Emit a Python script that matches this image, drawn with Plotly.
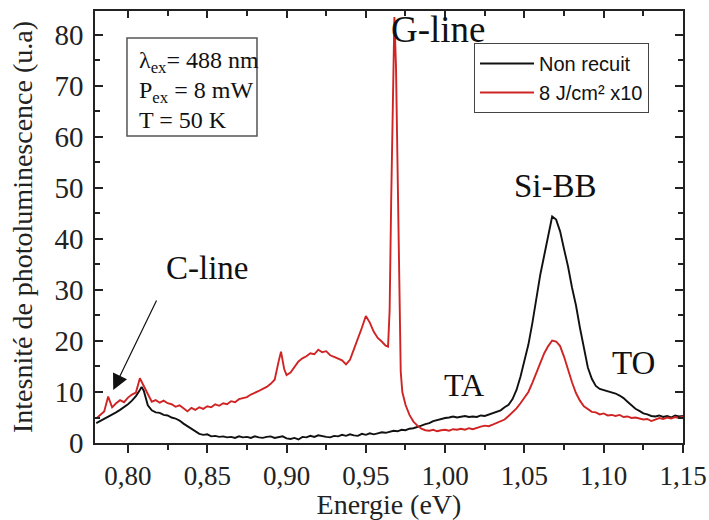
import plotly.graph_objects as go

# ---------------- data ----------------
energy_black = [
    0.780, 0.7825, 0.785, 0.7875, 0.790, 0.7925, 0.795, 0.7975, 0.800, 0.8025,
    0.805, 0.8075, 0.8086, 0.810, 0.8125, 0.815, 0.8175, 0.820, 0.8225, 0.825,
    0.8275, 0.830, 0.8325, 0.835, 0.8375, 0.840, 0.8425, 0.845, 0.8475, 0.850,
    0.8525, 0.855, 0.8575, 0.860, 0.8625, 0.865, 0.8675, 0.870, 0.8725, 0.875,
    0.8775, 0.880, 0.8825, 0.885, 0.8875, 0.890, 0.8925, 0.895, 0.8975, 0.900,
    0.9025, 0.905, 0.9075, 0.910, 0.9125, 0.915, 0.9175, 0.920, 0.9225, 0.925,
    0.9275, 0.930, 0.9325, 0.935, 0.9375, 0.940, 0.9425, 0.945, 0.9475, 0.950,
    0.9525, 0.955, 0.9575, 0.960, 0.9625, 0.965, 0.9675, 0.970, 0.9725, 0.975,
    0.9775, 0.980, 0.9825, 0.985, 0.9875, 0.990, 0.9925, 0.995, 0.9975, 1.000,
    1.0025, 1.005, 1.0075, 1.010, 1.0125, 1.015, 1.0175, 1.020, 1.0225, 1.025,
    1.0275, 1.030, 1.0325, 1.035, 1.0375, 1.040, 1.0425, 1.045, 1.0475, 1.050,
    1.0525, 1.055, 1.0575, 1.060, 1.0625, 1.065, 1.0675, 1.070, 1.0725, 1.075,
    1.0775, 1.080, 1.0825, 1.085, 1.0875, 1.090, 1.0925, 1.095, 1.0975, 1.100,
    1.1025, 1.105, 1.1075, 1.110, 1.1125, 1.115, 1.1175, 1.120, 1.1225, 1.125,
    1.1275, 1.130, 1.1325, 1.135, 1.1375, 1.140, 1.1425, 1.145, 1.1475, 1.150,
]
intensity_black = [
    3.9, 4.3, 4.8, 5.1, 5.6, 6.0, 6.5, 7.0, 7.6, 8.3,
    9.2, 10.4, 11.0, 10.2, 7.4, 6.4, 6.0, 5.9, 5.5, 5.4,
    5.0, 4.8, 4.4, 3.8, 3.3, 2.8, 2.3, 1.8, 1.6, 1.7,
    1.3, 1.4, 1.2, 1.3, 1.1, 1.2, 1.0, 1.3, 1.1, 1.2,
    1.0, 1.3, 1.1, 1.0, 1.2, 1.3, 1.0, 1.1, 1.3, 0.9,
    0.8, 1.0, 0.7, 1.2, 1.1, 1.4, 1.2, 1.5, 1.3, 1.2,
    1.1, 1.4, 1.3, 1.6, 1.4, 1.7, 1.5, 1.4, 1.8, 1.6,
    1.9, 1.7, 1.9, 2.1, 2.0, 2.2, 2.4, 2.3, 2.6, 2.5,
    2.8, 2.9, 3.1, 3.4, 3.7, 3.9, 4.3, 4.5, 4.8, 4.9,
    5.0, 5.2, 5.0, 5.1, 5.3, 5.1, 5.2, 5.1, 5.4, 5.3,
    5.6, 5.8, 6.1, 6.4, 7.0, 7.5, 8.6, 10.4, 13.0, 16.0,
    19.3, 23.5, 28.6, 33.0, 36.8, 41.0, 44.4, 43.8, 41.5, 38.0,
    34.6, 30.5, 27.0, 22.6, 18.4, 14.8, 12.6, 11.2, 10.6, 10.4,
    10.2, 10.0, 9.7, 9.3, 8.8, 8.1, 7.4, 6.7, 6.3, 5.8,
    5.6, 5.3, 5.2, 5.4, 5.1, 5.3, 5.0, 5.4, 5.2, 5.3,
]

energy_red = [
    0.780, 0.7825, 0.785, 0.7875, 0.790, 0.7925, 0.795, 0.7975, 0.800, 0.8025,
    0.805, 0.8075, 0.810, 0.8125, 0.815, 0.8175, 0.820, 0.8225, 0.825, 0.8275,
    0.830, 0.8325, 0.835, 0.8375, 0.840, 0.8425, 0.845, 0.8475, 0.850, 0.8525,
    0.855, 0.8575, 0.860, 0.8625, 0.865, 0.8675, 0.870, 0.8725, 0.875, 0.8775,
    0.880, 0.8825, 0.885, 0.8875, 0.890, 0.8925, 0.895, 0.8965, 0.8985, 0.900,
    0.9025, 0.905, 0.9075, 0.910, 0.9125, 0.915, 0.9175, 0.920, 0.9225, 0.925,
    0.9275, 0.930, 0.9325, 0.935, 0.9375, 0.940, 0.9425, 0.945, 0.9475, 0.950,
    0.9525, 0.955, 0.9575, 0.960, 0.9625, 0.964, 0.965, 0.966, 0.967, 0.968,
    0.969, 0.970, 0.971, 0.972, 0.973, 0.975, 0.9775, 0.980, 0.9825, 0.985,
    0.9875, 0.990, 0.9925, 0.995, 0.9975, 1.000, 1.0025, 1.005, 1.0075, 1.010,
    1.0125, 1.015, 1.0175, 1.020, 1.0225, 1.025, 1.0275, 1.030, 1.0325, 1.035,
    1.0375, 1.040, 1.0425, 1.045, 1.0475, 1.050, 1.0525, 1.055, 1.0575, 1.060,
    1.0625, 1.065, 1.0675, 1.070, 1.0725, 1.075, 1.0775, 1.080, 1.0825, 1.085,
    1.0875, 1.090, 1.0925, 1.095, 1.0975, 1.100, 1.1025, 1.105, 1.1075, 1.110,
    1.1125, 1.115, 1.1175, 1.120, 1.1225, 1.125, 1.1275, 1.130, 1.1325, 1.135,
    1.1375, 1.140, 1.1425, 1.145, 1.1475, 1.150,
]
intensity_red = [
    4.8, 5.6, 6.2, 9.1, 7.0, 7.8, 8.4, 8.0, 8.9, 9.5,
    9.9, 12.7, 11.3, 9.6, 8.1, 8.4, 7.9, 8.3, 7.8, 7.6,
    7.1, 7.4, 6.8, 6.2, 6.9, 6.5, 7.0, 6.7, 7.2, 7.0,
    7.6, 7.3, 7.8, 7.6, 8.2, 8.0, 8.6, 8.8, 9.0, 9.5,
    9.8, 10.2, 10.6, 11.0, 11.6, 12.4, 16.0, 17.9, 14.5, 13.3,
    13.8, 15.0, 16.0, 16.6, 17.0, 17.6, 17.4, 18.3, 17.8, 18.0,
    17.2, 16.9, 16.5, 16.2, 15.4, 16.3, 18.4, 20.4, 22.6, 24.9,
    23.6, 21.8, 20.6, 19.9, 19.1, 18.9, 26.0, 48.0, 70.0, 83.5,
    74.0, 55.0, 32.0, 14.0, 10.0, 7.5, 5.5, 4.2, 3.4, 2.8,
    2.5, 2.4, 2.6, 2.3, 2.5, 2.6, 2.4, 2.7, 2.6, 2.8,
    2.6, 2.9, 2.7, 3.0, 3.2, 3.4, 3.3, 3.6, 3.9, 4.2,
    4.6, 5.3, 6.0, 6.8, 7.8, 8.8, 10.0, 11.8, 13.8, 15.8,
    17.6, 19.0, 20.1, 19.9, 19.0, 16.9, 14.3, 11.9, 9.8, 8.3,
    7.2, 6.6, 6.1, 6.0, 5.6, 5.8, 5.4, 5.5, 5.3, 5.5,
    5.1, 5.2, 4.9, 5.0, 4.8, 4.6, 4.7, 4.3, 4.6, 4.9,
    4.7, 5.0, 4.8, 5.1, 4.9, 5.2,
]

series_names = ["Non recuit", "8 J/cm² x10"]
x_tick_values = [0.80, 0.85, 0.90, 0.95, 1.00, 1.05, 1.10, 1.15]
y_tick_values = [0, 10, 20, 30, 40, 50, 60, 70, 80]

peak_labels = ["G-line", "Si-BB", "C-line", "TA", "TO"]
peak_label_x = [0.9961, 1.0699, 0.8498, 1.0119, 1.1185]
peak_label_y = [81.0, 50.4, 34.3, 11.4, 15.7]
peak_label_size = [37, 33, 33, 32, 33]

info_lines = ["λ<sub>ex</sub>= 488 nm", "P<sub>ex</sub> = 8 mW", "T = 50 K"]

X_RANGE = [0.7792, 1.15]
Y_RANGE = [0, 84.7]

SERIF = "Liberation Serif, Times New Roman, serif"
SANS = "Liberation Sans, Arial, sans-serif"

fig = go.Figure()
fig.add_trace(go.Scatter(x=energy_black, y=intensity_black, mode="lines",
                         name=series_names[0],
                         line=dict(color="#111111", width=1.9)))
fig.add_trace(go.Scatter(x=energy_red, y=intensity_red, mode="lines",
                         name=series_names[1],
                         line=dict(color="#d02424", width=1.9)))
# helper trace so the top mirror axis is drawn
fig.add_trace(go.Scatter(x=[X_RANGE[0]], y=[0], xaxis="x2", mode="markers",
                         marker=dict(opacity=0), showlegend=False,
                         hoverinfo="skip"))

for txt, xv, yv, sz in zip(peak_labels, peak_label_x, peak_label_y, peak_label_size):
    fig.add_annotation(x=xv, y=yv, text=txt, showarrow=False,
                       font=dict(family=SERIF, size=sz, color="#111"),
                       xanchor="center", yanchor="middle")

# arrow pointing to the C-line
fig.add_annotation(x=0.7907, y=10.4, ax=44, ay=-91, text="", showarrow=True,
                   arrowhead=2, arrowsize=2.6, arrowwidth=1.2,
                   arrowcolor="#111")

# info box
fig.add_shape(type="rect", xref="paper", yref="paper",
              x0=0.0544, x1=0.2755, y0=0.7106, y1=0.9375,
              line=dict(color="#555", width=1.5), fillcolor="white")
for txt, yp in zip(info_lines, [0.882, 0.8125, 0.748]):
    fig.add_annotation(x=0.0714, y=yp, xref="paper", yref="paper", text=txt,
                       showarrow=False, xanchor="left", yanchor="middle",
                       font=dict(family=SERIF, size=24, color="#111"))

axis_common = dict(showgrid=False, zeroline=False, showline=True,
                   linecolor="#222", linewidth=1.6, automargin=False)

fig.update_layout(
    width=709, height=520,
    margin=dict(l=95, r=26, t=11, b=77, autoexpand=False),
    paper_bgcolor="white", plot_bgcolor="white",
    separators=", ",
    showlegend=True,
    legend=dict(x=0.6446, y=0.926, xanchor="left", yanchor="top",
                bgcolor="white", bordercolor="#444", borderwidth=1,
                font=dict(family=SANS, size=20, color="#111"),
                tracegroupgap=0, itemwidth=54),
    xaxis=dict(range=X_RANGE, tickvals=x_tick_values, tickformat=".2f",
               ticks="outside", ticklen=8, tickwidth=1.5, tickcolor="#222",
               minor=dict(ticks="outside", ticklen=5, tickwidth=1.5,
                          dtick=0.025, tick0=0.775, tickcolor="#222"),
               ticklabeloverflow="allow",
               tickfont=dict(family=SERIF, size=27, color="#222"),
               title=dict(text="Energie (eV)", standoff=5,
                          font=dict(family=SERIF, size=28, color="#222")),
               mirror=False, **axis_common),
    xaxis2=dict(range=X_RANGE, overlaying="x", side="top", anchor="y",
                tickvals=x_tick_values, showticklabels=False,
                ticks="inside", ticklen=7, tickwidth=1.5, tickcolor="#222",
                minor=dict(ticks="inside", ticklen=5, tickwidth=1.5,
                           dtick=0.025, tick0=0.775, tickcolor="#222"),
                **axis_common),
    yaxis=dict(range=Y_RANGE, tickvals=y_tick_values,
               ticks="inside", ticklen=8, tickwidth=1.5, tickcolor="#222",
               minor=dict(ticks="inside", ticklen=5, tickwidth=1.5,
                          dtick=5, tick0=0, tickcolor="#222"),
               mirror="ticks", ticklabelstandoff=4,
               tickfont=dict(family=SERIF, size=29, color="#222"),
               title=dict(text="Intesnité de photoluminescence (u.a)", standoff=14,
                          font=dict(family=SERIF, size=28, color="#222")),
               **axis_common),
)

# remove the default page margin so the 709x520 figure fills the window exactly
fig.write_html("out.html",
               config={"displayModeBar": False},
               post_script="document.body.style.margin='0';"
                           "document.body.style.overflow='hidden';")
